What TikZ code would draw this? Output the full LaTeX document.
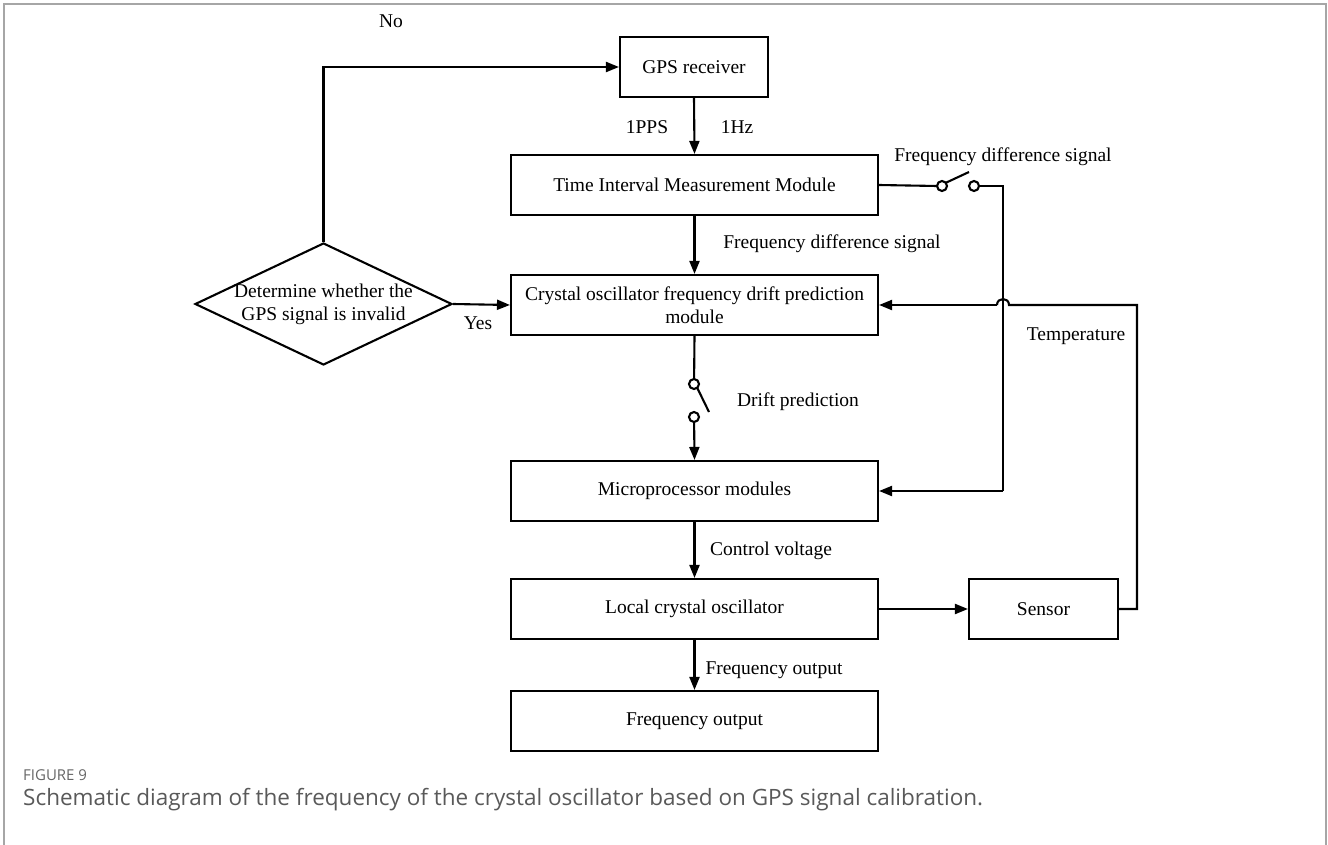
\documentclass[tikz,border=0pt]{standalone}
\usepackage{fontspec}
\setmainfont{Liberation Serif}
\newfontfamily\capfont{Open Sans}
\usetikzlibrary{arrows.meta,shapes.geometric}
\begin{document}
\begin{tikzpicture}[x=1pt,y=-1pt,
  every node/.style={font=\fontsize{19.5}{23}\selectfont},
  blk/.style={draw,line width=2.1pt,rectangle,minimum height=60pt,inner sep=0pt,align=center},
  wide/.style={blk,minimum width=367pt},
  ln/.style={line width=2.1pt},
  arr/.style={ln,-{Triangle[length=13pt,width=10pt]}},
  lbl/.style={inner sep=0pt},
  sw/.style={ln,fill=white}]
\useasboundingbox (0,0) rectangle (1328,845);
\draw[black!35,line width=1.5pt] (4,845) -- (4,4) -- (1326,4) -- (1326,845);

\node[blk,minimum width=148pt] (gps) at (694,67) {GPS receiver};
\node[wide] (ti) at (694.5,185) {Time Interval Measurement Module};
\node[wide] (cry) at (694.5,305) {Crystal oscillator frequency drift prediction\\module};
\node[wide] (mic) at (694.5,491) {Microprocessor modules};
\node[wide] (loc) at (694.5,609) {Local crystal oscillator};
\node[blk,minimum width=149pt] (sen) at (1043.5,609) {Sensor};
\node[wide] (fo) at (694.5,721) {Frequency output};
\node[diamond,draw,line width=2.1pt,minimum width=257pt,minimum height=122pt,inner sep=0pt] (dec) at (323.5,304) {};
\node[lbl,align=center] (dect) at (dec) {Determine whether the\\GPS signal is invalid};

% switches
\coordinate (s1a) at (942,186);
\coordinate (s1b) at (974,186);
\coordinate (s2a) at (694,384);
\coordinate (s2b) at (694,417);
\coordinate (jr) at (1003,186);
\coordinate (jb) at (1003,491);
\coordinate (tr) at (1137,609);
\coordinate (tt) at (1137,305);

% connectors
\draw[arr] (dec.north) |- (gps.west);
\draw[arr] (dec.east) -- (cry.west);
\draw[arr] (gps.south) -- (ti.north);
\draw[arr] (ti.south) -- (cry.north);
\draw[ln] (cry.south) -- ([yshift=-5pt]s2a);
\draw[ln] ([shift={(3.2,3.8)}]s2a) -- (709,412);
\draw[arr] ([yshift=5pt]s2b) -- (mic.north);
\draw[sw] (s2a) circle[radius=5pt];
\draw[sw] (s2b) circle[radius=5pt];

\draw[ln] (ti.east) -- ([xshift=-5pt]s1a);
\draw[ln] ([shift={(3.8,-3.2)}]s1a) -- (969,172);
\draw[ln] ([xshift=5pt]s1b) -- (jr) -- (jb);
\draw[arr] (jb) -- (mic.east);
\draw[sw] (s1a) circle[radius=5pt];
\draw[sw] (s1b) circle[radius=5pt];

\draw[arr] (mic.south) -- (loc.north);
\draw[arr] (loc.east) -- (sen.west);
\draw[arr] (loc.south) -- (fo.north);
\draw[ln] (sen.east) -- (tr) -- (tt) -- (1009,305) .. controls (1009,297) and (997,297) .. (997,305);
\draw[arr] (997,305) -- (cry.east);

% labels
\node[lbl] (lno) at (391,21) {No};
\node[lbl] (lyes) at (478,323) {Yes};
\node[lbl] (l1pps) at (647,127) {1PPS};
\node[lbl] (l1hz) at (737,127) {1Hz};
\node[lbl] (lfd1) at (1003,157) {Frequency difference signal};
\node[lbl] (lfd2) at (832,244) {Frequency difference signal};
\node[lbl] (ldp) at (798,402) {Drift prediction};
\node[lbl] (ltemp) at (1076,336) {Temperature};
\node[lbl] (lcv) at (771,551) {Control voltage};
\node[lbl] (lfo) at (774,670) {Frequency output};

% caption
\node[lbl,anchor=west,text=black!60,font=\capfont\fontsize{15}{17}\selectfont] (fig) at (23,775) {FIGURE 9};
\node[lbl,anchor=west,text=black!65,font=\capfont\fontsize{22.5}{26}\selectfont] (cap) at (23,800) {Schematic diagram of the frequency of the crystal oscillator based on GPS signal calibration.};
\end{tikzpicture}
\end{document}
